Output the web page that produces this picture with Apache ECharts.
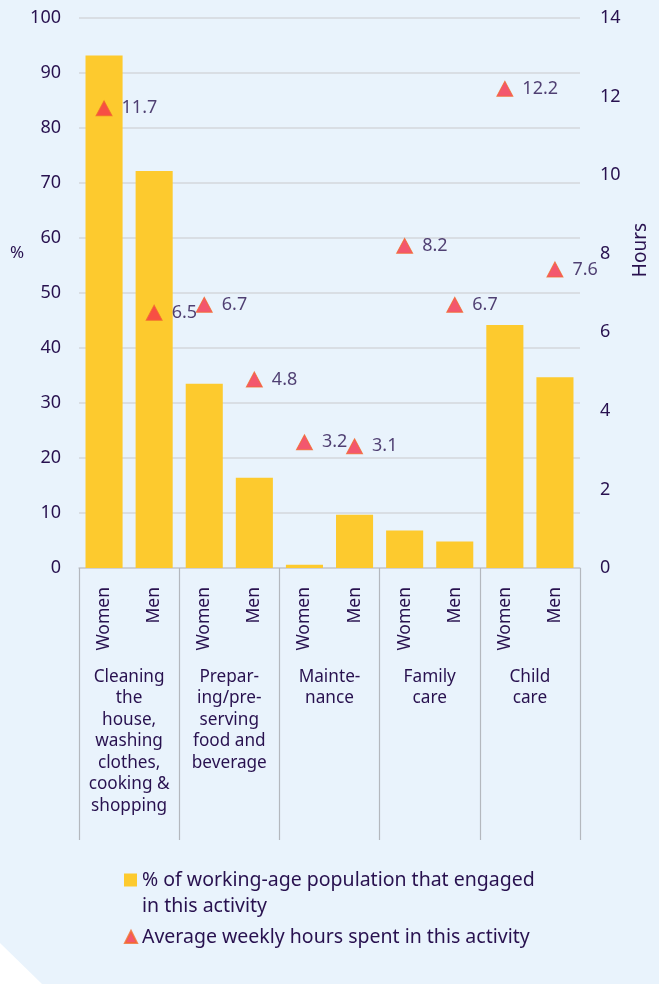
<!DOCTYPE html>
<html><head><meta charset="utf-8">
<script src="https://cdn.jsdelivr.net/npm/echarts@6/dist/echarts.min.js"></script>
<style>html,body{margin:0;padding:0;background:#fff}#c{width:659px;height:984px}</style>
</head><body><div id="c"></div>
<script>
const sexes = ['Women','Men','Women','Men','Women','Men','Women','Men','Women','Men'];
const groups = ['Cleaning\nthe\nhouse,\nwashing\nclothes,\ncooking &\nshopping','Prepar-\ning/pre-\nserving\nfood and\nbeverage','Mainte-\nnance','Family\ncare','Child\ncare'];
const pctEngaged = [93.2, 72.2, 33.5, 16.4, 0.6, 9.7, 6.8, 4.8, 44.2, 34.7];
const weeklyHours = [11.7, 6.5, 6.7, 4.8, 3.2, 3.1, 8.2, 6.7, 12.2, 7.6];
const leftTicks = {min:0, max:100, interval:10};
const rightTicks = {min:0, max:14, interval:2};
const seriesNames = ['% of working-age population that engaged in this activity','Average weekly hours spent in this activity'];

const TXT = '#28114f';
const FONT = 'Noto Sans';
const chart = echarts.init(document.getElementById('c'), null, {renderer:'canvas'});
chart.setOption({
  backgroundColor: 'transparent',
  textStyle: {fontFamily: FONT, color: TXT},
  graphic: [{
    type: 'polygon', z: -10, silent: true,
    shape: {points: [[0,0],[659,0],[659,984],[42,984],[0,943]]},
    style: {fill: '#e9f3fc'}
  }],
  grid: {left: 79, right: 79, top: 18, bottom: 416},
  legend: [{
    orient: 'vertical', left: 124, top: 841, padding: 0,
    itemWidth: 13, itemHeight: 13,
    textStyle: {fontFamily: FONT, fontSize: 19.5, color: TXT, lineHeight: 26},
    formatter: function(){ return ' \n% of working-age population that engaged\nin this activity'; },
    data: [{name: seriesNames[0], icon: 'rect'}]
  },{
    orient: 'vertical', left: 124, top: 924, padding: 0,
    itemWidth: 12, itemHeight: 12,
    textStyle: {fontFamily: FONT, fontSize: 19.5, color: TXT, lineHeight: 26},
    data: [{name: seriesNames[1], icon: 'triangle'}]
  }],
  xAxis: [{
    type: 'category', data: sexes, gridIndex: 0, position: 'bottom',
    axisLine: {show: true, lineStyle: {color: '#c9ccd1', width: 1.5}},
    axisTick: {show: false},
    axisLabel: {rotate: 90, margin: 19, fontSize: 17.5, color: TXT, fontFamily: FONT, interval: 0}
  },{
    type: 'category', data: groups, gridIndex: 0, position: 'bottom',
    axisLine: {show: false},
    axisTick: {show: true, length: 272, lineStyle: {color: '#b4b8be', width: 1.2}},
    axisLabel: {margin: 98, fontSize: 17.2, lineHeight: 21.5, verticalAlign: 'top', color: TXT, fontFamily: FONT, interval: 0, align: 'center'}
  }],
  yAxis: [{
    type: 'value', min: leftTicks.min, max: leftTicks.max, interval: leftTicks.interval,
    name: '%\n \n \n \n ', nameLocation: 'middle', nameRotate: 0, nameGap: 44,
    nameTextStyle: {fontSize: 17, lineHeight: 20, color: TXT, fontFamily: FONT, align: 'center'},
    axisLine: {show: false}, axisTick: {show: false},
    axisLabel: {fontSize: 18, color: TXT, margin: 18, fontFamily: FONT},
    splitLine: {lineStyle: {color: '#d3d7dc', width: 1.5}}
  },{
    type: 'value', min: rightTicks.min, max: rightTicks.max, interval: rightTicks.interval,
    name: 'Hours', nameLocation: 'middle', nameRotate: 90, nameGap: 50,
    nameTextStyle: {fontSize: 19, color: TXT, fontFamily: FONT, padding: [0,0,0,86]},
    axisLine: {show: false}, axisTick: {show: false},
    axisLabel: {fontSize: 18, color: TXT, margin: 20, fontFamily: FONT},
    splitLine: {show: false}
  }],
  series: [{
    name: seriesNames[0], type: 'bar', xAxisIndex: 0, yAxisIndex: 0,
    data: pctEngaged, barWidth: '74%',
    itemStyle: {color: '#fdca2e'}
  },{
    name: seriesNames[1], type: 'scatter', xAxisIndex: 0, yAxisIndex: 1,
    data: weeklyHours, symbol: 'triangle', symbolSize: [16, 15],
    itemStyle: {color: '#f5304a', borderColor: '#f26a2a', borderWidth: 1},
    label: {show: true, position: 'right', distance: 9, fontSize: 18, color: TXT, fontFamily: FONT,
      formatter: p => p.value.toFixed(1)},
    z: 5
  }]
});
</script></body></html>
